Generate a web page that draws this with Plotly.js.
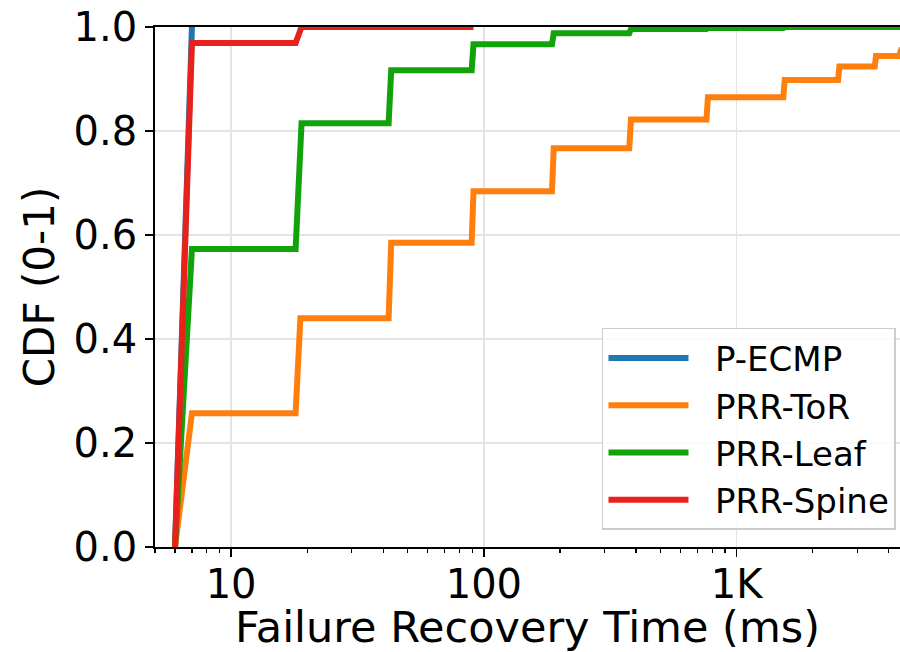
<!DOCTYPE html>
<html>
<head>
<meta charset="utf-8">
<script src="https://cdn.plot.ly/plotly-3.0.1.min.js"></script>
<style>html,body{margin:0;padding:0;background:#fff;}#chart{width:900px;height:652px;}</style>
</head>
<body>
<div id="chart"></div>
<script>
// Series data (x in ms, y = CDF)
const seriesNames = ["P-ECMP", "PRR-ToR", "PRR-Leaf", "PRR-Spine"];

const ecmpX = [6, 7];
const ecmpY = [0, 1.0];

const torX = [6, 7, 18, 18.8, 42, 43, 89.5, 91, 186, 189, 376, 382, 760, 770, 1530, 1550, 2520, 2550, 3520, 3560, 4400, 4500];
const torY = [0, 0.257, 0.257, 0.44, 0.44, 0.585, 0.585, 0.684, 0.684, 0.767, 0.767, 0.822, 0.822, 0.865, 0.865, 0.898, 0.898, 0.924, 0.924, 0.944, 0.944, 0.96];

const leafX = [6, 7, 18, 19, 42, 43, 89.5, 91, 186, 189, 376, 382, 760, 770, 1530, 1545, 4500];
const leafY = [0, 0.573, 0.573, 0.815, 0.815, 0.917, 0.917, 0.967, 0.967, 0.988, 0.988, 0.996, 0.996, 0.998, 0.998, 1.0, 1.0];

const spineX = [6, 7, 18, 19, 91];
const spineY = [0, 0.969, 0.969, 1.0, 1.0];

const xTickVals = [10, 100, 1000];
const xTickText = ["10", "100", "1K"];
const xMinorVals = [5, 6, 7, 8, 9, 20, 30, 40, 50, 60, 70, 80, 90, 200, 300, 400, 500, 600, 700, 800, 900, 2000, 3000, 4000];
const yTickVals = [0, 0.2, 0.4, 0.6, 0.8, 1.0];

const colors = ["#1f77b4", "#ff7f0e", "#12a20c", "#e8221b"];
const xs = [ecmpX, torX, leafX, spineX];
const ys = [ecmpY, torY, leafY, spineY];

const traces = seriesNames.map((n, i) => ({
  x: xs[i], y: ys[i], name: "\u00a0\u00a0" + n, type: "scatter", mode: "lines",
  line: {color: colors[i], width: 6, shape: "linear"}
}));

const FONT = "DejaVu Sans, Verdana, sans-serif";
const layout = {
  width: 900, height: 652,
  margin: {l: 155, r: 0, t: 27, b: 105, pad: 0},
  paper_bgcolor: "#ffffff", plot_bgcolor: "#ffffff",
  font: {family: FONT, color: "#000000"},
  showlegend: true,
  legend: {
    x: 0.9946, y: 0.0327, xanchor: "right", yanchor: "bottom",
    bgcolor: "rgba(255,255,255,0.85)", bordercolor: "#cccccc", borderwidth: 1.5,
    font: {family: FONT, size: 34, color: "#000000"},
    itemwidth: 80, tracegroupgap: 0
  },
  xaxis: {
    type: "log",
    range: [Math.log10(5), Math.log10(4430)],
    tickmode: "array", tickvals: xTickVals, ticktext: xTickText,
    ticks: "outside", ticklen: 8, tickwidth: 1.6, tickcolor: "#000",
    tickfont: {family: FONT, size: 40, color: "#000"},
    ticklabelstandoff: -7,
    showline: true, linecolor: "#000", linewidth: 1.8, mirror: true,
    showgrid: true, gridcolor: "#e3e3e3", gridwidth: 1.6,
    zeroline: false,
    minor: {tickmode: "array", tickvals: xMinorVals, ticks: "outside", ticklen: 4, tickwidth: 1.2, tickcolor: "#000", showgrid: false},
    title: {text: "Failure Recovery Time (ms)", font: {family: FONT, size: 43, color: "#000"}, standoff: 7}
  },
  yaxis: {
    range: [0, 1],
    tickmode: "array", tickvals: yTickVals, tickformat: ".1f",
    ticks: "outside", ticklen: 8, tickwidth: 1.6, tickcolor: "#000",
    tickfont: {family: FONT, size: 40, color: "#000"},
    showline: true, linecolor: "#000", linewidth: 1.8, mirror: false,
    showgrid: true, gridcolor: "#e3e3e3", gridwidth: 1.6,
    zeroline: false,
    title: {text: "CDF (0-1)", font: {family: FONT, size: 42, color: "#000"}, standoff: 6}
  }
};

Plotly.newPlot("chart", traces, layout, {displayModeBar: false, staticPlot: true});
</script>
</body>
</html>
